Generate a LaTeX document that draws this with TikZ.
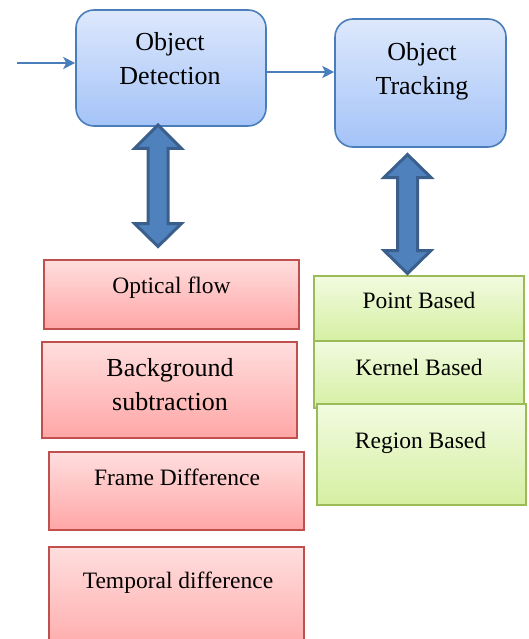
\documentclass[tikz,border=0pt]{standalone}
\usepackage{fontspec}
\setmainfont{Liberation Serif}
\usetikzlibrary{arrows.meta}
\definecolor{blueedge}{HTML}{4A7EBB}
\definecolor{bluetop}{HTML}{DDE8FC}
\definecolor{bluebot}{HTML}{A4C3F8}
\definecolor{rededge}{HTML}{C0504D}
\definecolor{redtop}{HTML}{FFDEDE}
\definecolor{redbot}{HTML}{FFA6A6}
\definecolor{greenedge}{HTML}{9BBB59}
\definecolor{greentop}{HTML}{F2FBE0}
\definecolor{greenbot}{HTML}{D5EFA2}
\definecolor{arrowfill}{HTML}{4F81BD}
\definecolor{arrowedge}{HTML}{3A5F8C}
\begin{document}
\begin{tikzpicture}[x=1pt,y=-1pt,
  stage/.style={draw=blueedge,line width=1.6pt,rounded corners=18pt,
    top color=bluetop,bottom color=bluebot,inner sep=0pt},
  method/.style={draw=rededge,line width=1.6pt,
    top color=redtop,bottom color=redbot,inner sep=0pt},
  tracker/.style={draw=greenedge,line width=1.6pt,
    top color=greentop,bottom color=greenbot,inner sep=0pt},
  bigtext/.style={font=\fontsize{26}{34}\selectfont,align=center,inner sep=0pt},
  smalltext/.style={font=\fontsize{23.5}{28}\selectfont,inner sep=0pt,anchor=base},
  flow/.style={draw=blueedge,line width=1.8pt,-{Stealth[length=12pt,width=12pt,inset=3pt]}},
  bigarrow/.style={fill=arrowfill,draw=arrowedge,line width=3pt,line join=miter}]
\useasboundingbox (0,0) rectangle (528,639);
\clip (0,0) rectangle (528,639);

% main stages
\node[stage,minimum width=190pt,minimum height=116pt] (det) at (171,68) {};
\node[stage,minimum width=171pt,minimum height=128pt] (trk) at (420.5,83) {};
\node[bigtext] (dett) at (170,58.6) {Object\\Detection};
\node[bigtext] (trkt) at (422,71) {Object\\Tracking};

% detection methods
\node[method,minimum width=255pt,minimum height=69pt] (opt) at (171.5,294.5) {};
\node[method,minimum width=255pt,minimum height=96pt] (bgs) at (169.5,390) {};
\node[method,minimum width=255pt,minimum height=78pt] (frm) at (176.5,491) {};
\node[method,minimum width=255pt,minimum height=113pt] (tmp) at (176.5,603.5) {};
\node[smalltext] (optt) at (171.5,293) {Optical flow};
\node[bigtext] (bgst) at (170,384.4) {Background\\subtraction};
\node[smalltext] (frmt) at (177,485) {Frame Difference};
\node[smalltext] (tmpt) at (178,588) {Temporal difference};

% tracking methods
\node[tracker,minimum width=210pt,minimum height=65pt] (pnt) at (419,308.5) {};
\node[tracker,minimum width=210pt,minimum height=67pt] (krn) at (419,374.5) {};
\node[tracker,minimum width=209pt,minimum height=101pt] (reg) at (421.5,454.5) {};
\node[smalltext] (pntt) at (419,308) {Point Based};
\node[smalltext] (krnt) at (419,375) {Kernel Based};
\node[smalltext] (regt) at (420.5,448) {Region Based};

% flow arrows
\coordinate (in) at (17,63);
\draw[flow] (in) -- (in -| det.west);
\draw[flow] ([yshift=-4pt]det.east) -- ([yshift=-4pt]det.east -| trk.west);

% two-way block arrows
\draw[bigarrow] (158,125) -- (181.5,148.5) -- (168,148.5) -- (168,223.5) -- (181.5,223.5)
  -- (158,246.5) -- (134.5,223.5) -- (148,223.5) -- (148,148.5) -- (134.5,148.5) -- cycle;
\draw[bigarrow] (407.5,154.5) -- (431,177.5) -- (417.5,177.5) -- (417.5,250.5) -- (431,250.5)
  -- (407.5,273.5) -- (384,250.5) -- (397.5,250.5) -- (397.5,177.5) -- (384,177.5) -- cycle;
\end{tikzpicture}
\end{document}
